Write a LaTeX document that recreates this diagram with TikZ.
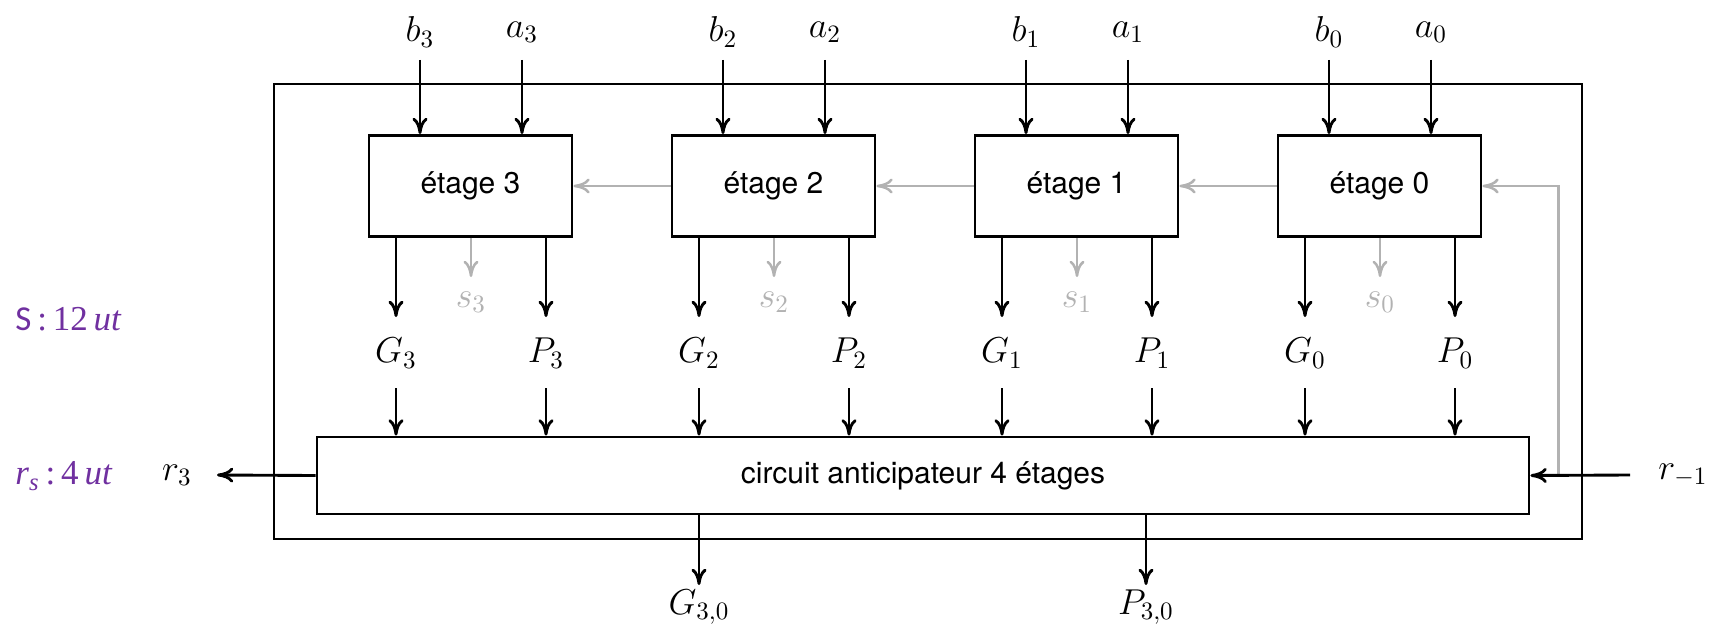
\documentclass[tikz,border=0pt]{standalone}
\usepackage{fontspec}
\newfontfamily\hv{TeX Gyre Heros}
\newfontfamily\carl{Carlito}
\newfontfamily\lser{Liberation Serif}
\usetikzlibrary{arrows.meta,calc}
\definecolor{purp}{HTML}{7030A0}
\definecolor{lgray}{gray}{0.7}
\begin{document}
\begin{tikzpicture}[x=0.4pt,y=-0.4pt, line width=1.15pt,
  arr/.style={-{To[length=6.5pt,width=6pt]}},
  garr/.style={arr, draw=lgray, line width=1pt},
  stagebox/.style={draw, minimum width=81.2pt, minimum height=40.4pt, inner sep=0pt, font=\hv\large},
  lab/.style={inner sep=0pt, font=\Large},
  purplab/.style={anchor=west, inner sep=0pt, text=purp, font=\fontsize{14}{16}\selectfont}]
\useasboundingbox (0,0) rectangle (1711,626);
\draw (274,84) rectangle (1582,539);
\node[draw, minimum width=484.8pt, minimum height=30.8pt, inner sep=0pt, font=\hv\large] (circ) at (923,475.5) {circuit anticipateur 4 étages};
\foreach \i/\L in {3/369,2/672,1/975,0/1278} {
  \node[stagebox] (e\i) at (\L+101.5,186) {étage \i};
  \node[lab] (b\i) at (\L+51,32) {$b_{\i}$};
  \node[lab] (a\i) at (\L+153,32) {$a_{\i}$};
  \node[lab] (G\i) at (\L+27,353) {$G_{\i}$};
  \node[lab] (P\i) at (\L+177,353) {$P_{\i}$};
  \node[lab, text=lgray] (s\i) at (\L+102,302) {$s_{\i}$};
  \draw[arr] ($(b\i)+(0,28)$) -- (e\i.north -| b\i);
  \draw[arr] ($(a\i)+(0,28)$) -- (e\i.north -| a\i);
  \draw[arr] (e\i.south -| G\i) -- ($(G\i)+(0,-36)$);
  \draw[arr] (e\i.south -| P\i) -- ($(P\i)+(0,-36)$);
  \draw[garr] (e\i.south -| s\i) -- ($(s\i)+(0,-25)$);
  \draw[arr] ($(G\i)+(0,35)$) -- (circ.north -| G\i);
  \draw[arr] ($(P\i)+(0,35)$) -- (circ.north -| P\i);
}
\draw[garr] (e0.west) -- (e1.east);
\draw[garr] (e1.west) -- (e2.east);
\draw[garr] (e2.west) -- (e3.east);
\coordinate (fb) at ($(circ.east)+(28,0)$);
\draw[garr] (fb) |- (e0.east);
\node[lab] (rm) at (1683,475) {$r_{-1}$};
\draw[arr] ($(rm)+(-53,0)$) -- (circ.east);
\node[lab] (r3) at (177,475) {$r_3$};
\draw[arr] (circ.west) -- ($(r3)+(40,0)$);
\node[lab] (G30) at (699,607) {$G_{3,0}$};
\draw[arr] (circ.south -| G30) -- ($(G30)+(0,-22)$);
\node[lab] (P30) at (1146,607) {$P_{3,0}$};
\draw[arr] (circ.south -| P30) -- ($(P30)+(0,-22)$);
\node[purplab] (S) at (14,319) {{\carl S}\,{\lser :\,12\,\itshape ut}};
\node[purplab] (rs) at (14,476) {{\lser\itshape r\textsubscript{s}\,\upshape:\,4\,\itshape ut}};
\end{tikzpicture}
\end{document}
